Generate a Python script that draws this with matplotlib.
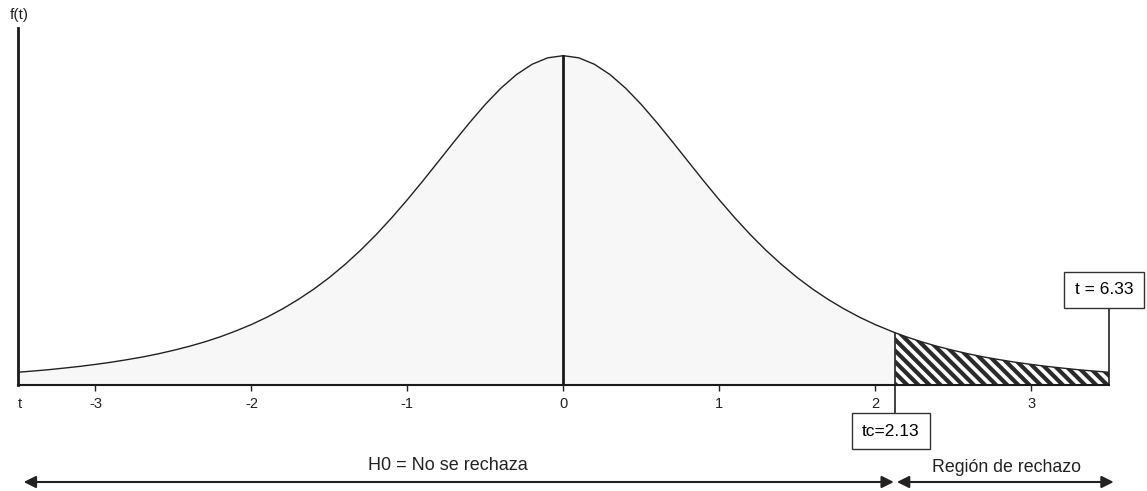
import matplotlib.pyplot as plt

plt.rcParams['font.family'] = ['Liberation Sans', 'DejaVu Sans']

# Curva f(t) (t de Student)
t_puntos = [-3.5, -3.4, -3.3, -3.2, -3.1, -3.0, -2.9, -2.8, -2.7, -2.6,
            -2.5, -2.4, -2.3, -2.2, -2.1, -2.0, -1.9, -1.8, -1.7, -1.6,
            -1.5, -1.4, -1.3, -1.2, -1.1, -1.0, -0.9, -0.8, -0.7, -0.6,
            -0.5, -0.4, -0.3, -0.2, -0.1, 0.0, 0.1, 0.2, 0.3, 0.4,
            0.5, 0.6, 0.7, 0.8, 0.9, 1.0, 1.1, 1.2, 1.3, 1.4,
            1.5, 1.6, 1.7, 1.8, 1.9, 2.0, 2.1, 2.13, 2.2, 2.3,
            2.4, 2.5, 2.6, 2.7, 2.8, 2.9, 3.0, 3.1, 3.2, 3.3,
            3.4, 3.5]
f_puntos = [0.0142, 0.0156, 0.0171, 0.0189, 0.0208, 0.0230, 0.0254, 0.0282, 0.0312, 0.0347,
            0.0387, 0.0431, 0.0481, 0.0538, 0.0603, 0.0675, 0.0757, 0.0850, 0.0954, 0.1070,
            0.1200, 0.1345, 0.1504, 0.1678, 0.1867, 0.2068, 0.2279, 0.2497, 0.2716, 0.2930,
            0.3132, 0.3313, 0.3465, 0.3580, 0.3652, 0.3676, 0.3652, 0.3580, 0.3465, 0.3313,
            0.3132, 0.2930, 0.2716, 0.2497, 0.2279, 0.2068, 0.1867, 0.1678, 0.1504, 0.1345,
            0.1200, 0.1070, 0.0954, 0.0850, 0.0757, 0.0675, 0.0603, 0.0582, 0.0538, 0.0481,
            0.0431, 0.0387, 0.0347, 0.0312, 0.0282, 0.0254, 0.0230, 0.0208, 0.0189, 0.0171,
            0.0156, 0.0142]

ticks = [-3, -2, -1, 0, 1, 2, 3]
tc = 2.13
t_calc = 6.33

W, H = 1147, 491
fig = plt.figure(figsize=(W / 100, H / 100), dpi=100)
ax = fig.add_axes([17.5 / W, 106 / H, 1091.5 / W, 357 / H])
ax.set_xlim(-3.5, 3.5)
ax.set_ylim(0, 0.3985)

# zona de aceptación (gris claro) y zona de rechazo (rayada)
izq = [i for i, t in enumerate(t_puntos) if t <= tc]
der = [i for i, t in enumerate(t_puntos) if t >= tc]
ax.fill_between([t_puntos[i] for i in izq], [f_puntos[i] for i in izq], 0,
                color='#f7f7f7', lw=0)
plt.rcParams['hatch.linewidth'] = 3.0
ax.fill_between([t_puntos[i] for i in der], [f_puntos[i] for i in der], 0,
                facecolor='white', edgecolor='#2a2a2a', hatch='\\\\\\', lw=0)
ax.plot(t_puntos, f_puntos, color='#222222', lw=1)

# línea central
ax.plot([0, 0], [0, max(f_puntos)], color='#1a1a1a', lw=2)

for s in ['top', 'right']:
    ax.spines[s].set_visible(False)
ax.spines['left'].set_linewidth(2)
ax.spines['left'].set_color('#1a1a1a')
ax.spines['bottom'].set_linewidth(1.5)
ax.spines['bottom'].set_color('#1a1a1a')
ax.set_yticks([])
ax.set_xticks(ticks)
ax.set_xticklabels([str(t) for t in ticks])
ax.tick_params(axis='x', length=4, width=1, pad=5, labelsize=10.5, colors='#222222')

# línea de tc y recuadro
f_tc = f_puntos[t_puntos.index(tc)]
ax.plot([tc, tc], [f_tc, -0.0335], color='#222222', lw=1.2, clip_on=False)
fig.text(891 / W, 1 - 431 / H, 'tc=2.13', fontsize=12.5, ha='center', va='center',
         bbox=dict(boxstyle='square,pad=0.6', fc='white', ec='#333333', lw=1))

# línea de t calculado y recuadro
ax.plot([3.5, 3.5], [0, 0.086], color='#222222', lw=1.2, clip_on=False)
fig.text(1104 / W, 1 - 290 / H, 't = 6.33', fontsize=12.5, ha='center', va='center',
         bbox=dict(boxstyle='square,pad=0.6', fc='white', ec='#333333', lw=1))

fig.text(19 / W, 1 - 15 / H, 'f(t)', fontsize=11, ha='center', va='center', color='#222222')
fig.text(20 / W, 1 - 404 / H, 't', fontsize=10.5, ha='center', va='center', color='#222222')

# flechas inferiores
flecha = dict(arrowstyle='<|-|>', color='#222222', lw=1.5, mutation_scale=18,
              shrinkA=0, shrinkB=0)
ax.annotate('', xy=(-3.46, 9), xytext=(2.12, 9),
            xycoords=('data', 'figure pixels'), textcoords=('data', 'figure pixels'),
            arrowprops=flecha, annotation_clip=False)
ax.annotate('', xy=(2.14, 9), xytext=(3.53, 9),
            xycoords=('data', 'figure pixels'), textcoords=('data', 'figure pixels'),
            arrowprops=flecha, annotation_clip=False)
fig.text(448 / W, 1 - 466 / H, 'H0 = No se rechaza', fontsize=13, ha='center', va='center',
         color='#222222')
fig.text(1006 / W, 1 - 467 / H, 'Región de rechazo', fontsize=12.8, ha='center', va='center',
         color='#222222')

fig.savefig('out.png', dpi=100)
